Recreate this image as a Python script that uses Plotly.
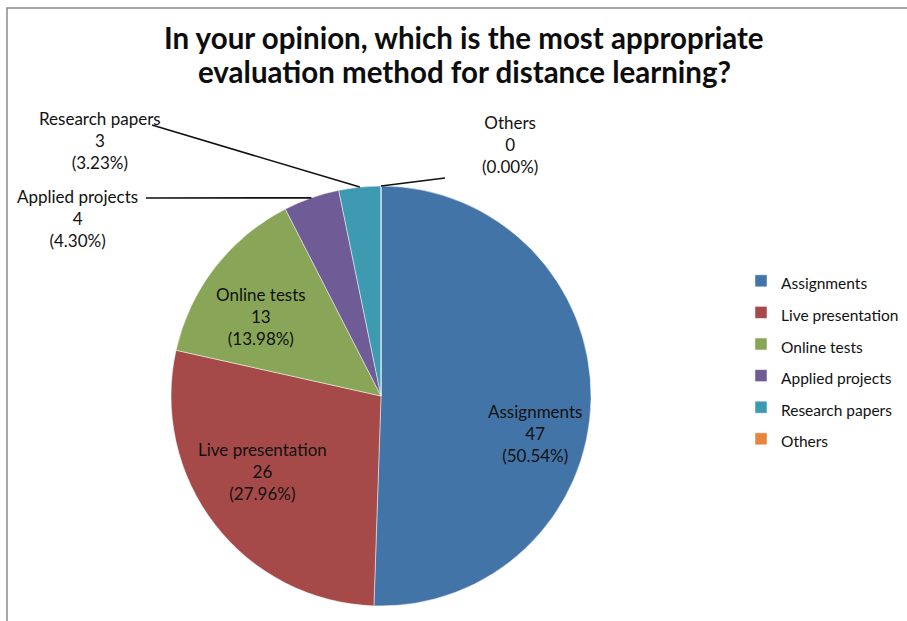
import math
import plotly.graph_objects as go

# Survey responses
categories = ["Assignments", "Live presentation", "Online tests",
              "Applied projects", "Research papers", "Others"]
counts = [47, 26, 13, 4, 3, 0]
colors = ["#4374A7", "#A54A48", "#89A658", "#6F5B96", "#3D9AB0", "#E8853D"]

title_lines = ["In your opinion, which is the most appropriate",
               "evaluation method for distance learning?"]

W, H = 907, 621
FONT = "Lato, 'Open Sans', sans-serif"

# pie geometry in pixels
CX, CY, R = 381, 396, 210


def px(x):
    return x / W


def py(y):
    return 1 - y / H


total = sum(counts)

fig = go.Figure()
fig.add_trace(go.Pie(
    labels=[f"<span style='font-size:15.5px'>{c}</span>" for c in categories],
    values=counts,
    marker=dict(colors=colors, line=dict(color="rgba(255,255,255,0.6)", width=0.8)),
    sort=False,
    direction="clockwise",
    rotation=0,
    textinfo="none",
    hoverinfo="label+value+percent",
    domain=dict(x=[px(CX - R), px(CX + R)], y=[py(CY + R), py(CY - R)]),
    showlegend=True,
))

# label placement (pixel centres) and leader-line anchors for outside labels
label_pos = {
    "Assignments": (535, 433),
    "Live presentation": (262, 471),
    "Online tests": (261, 316),
    "Applied projects": (77, 218),
    "Research papers": (100, 140),
    "Others": (510, 144),
}
leader_end = {
    "Applied projects": (146, 198),
    "Research papers": (152, 125),
    "Others": (445, 178),
}

annotations = []
shapes = []
cum = 0
for cat, val in zip(categories, counts):
    frac_mid = (cum + val / 2) / total
    cum += val
    pct = 100 * val / total
    lx, ly = label_pos[cat]
    annotations.append(dict(
        x=px(lx), y=py(ly), xref="paper", yref="paper",
        text=f"{cat}<br>{val}<br>({pct:.2f}%)",
        showarrow=False, align="center",
        font=dict(family=FONT, size=17, color="#111111"),
        xanchor="center", yanchor="middle",
    ))
    if cat in leader_end:
        theta = math.radians(90 - 360 * frac_mid)
        ex = CX + R * math.cos(theta)
        ey = CY - R * math.sin(theta)
        tx, ty = leader_end[cat]
        shapes.append(dict(type="line", xref="paper", yref="paper",
                           x0=px(tx), y0=py(ty), x1=px(ex), y1=py(ey),
                           line=dict(color="#111111", width=1.6)))

# chart area frame
shapes.append(dict(type="rect", xref="paper", yref="paper",
                   x0=px(7), y0=py(630), x1=px(915), y1=py(8),
                   line=dict(color="#8a8a8a", width=1.5), layer="below"))

for i, line in enumerate(title_lines):
    annotations.append(dict(
        x=px(464), y=py(37 + 35 * i), xref="paper", yref="paper",
        text=f"<b>{line}</b>", showarrow=False,
        font=dict(family=FONT, size=29.5, color="#0d0d0d"),
        xanchor="center", yanchor="middle",
    ))

fig.update_layout(
    width=W, height=H,
    margin=dict(l=0, r=0, t=0, b=0, autoexpand=False),
    paper_bgcolor="white",
    plot_bgcolor="white",
    annotations=annotations,
    shapes=shapes,
    legend=dict(
        x=px(741), y=py(260), xanchor="left", yanchor="top",
        font=dict(family=FONT, size=22, color="#111111"),
        bgcolor="rgba(0,0,0,0)",
        traceorder="normal",
    ),
)

fig.write_html("out.html")
